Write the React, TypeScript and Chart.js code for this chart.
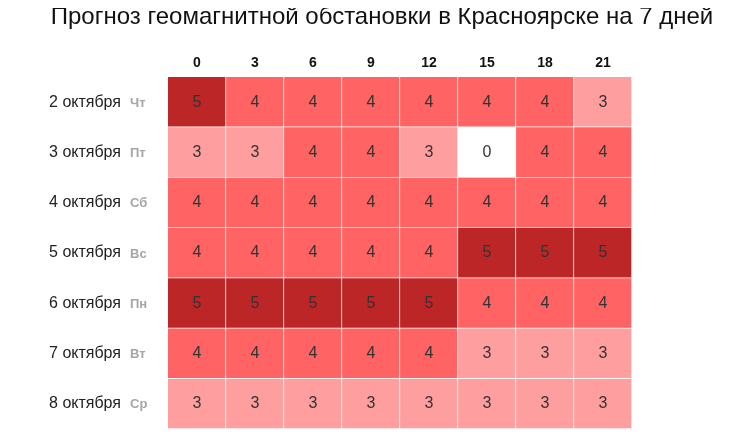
import React, { useEffect, useRef } from "react";
import { Chart, registerables } from "chart.js";

Chart.register(...registerables);

const TITLE = "Прогноз геомагнитной обстановки в Красноярске на 7 дней";
const hours = ["0", "3", "6", "9", "12", "15", "18", "21"];
const dates = ["2 октября", "3 октября", "4 октября", "5 октября", "6 октября", "7 октября", "8 октября"];
const weekdays = ["Чт", "Пт", "Сб", "Вс", "Пн", "Вт", "Ср"];

const oct2 = [5, 4, 4, 4, 4, 4, 4, 3];
const oct3 = [3, 3, 4, 4, 3, 0, 4, 4];
const oct4 = [4, 4, 4, 4, 4, 4, 4, 4];
const oct5 = [4, 4, 4, 4, 4, 5, 5, 5];
const oct6 = [5, 5, 5, 5, 5, 4, 4, 4];
const oct7 = [4, 4, 4, 4, 4, 3, 3, 3];
const oct8 = [3, 3, 3, 3, 3, 3, 3, 3];
const rows = [oct2, oct3, oct4, oct5, oct6, oct7, oct8];

const FONT = "'Liberation Sans', Arial, sans-serif";

function colorFor(v: number) {
  if (v >= 5) return "#bc2626";
  if (v === 4) return "#ff6363";
  if (v === 3) return "#ff9e9e";
  return "#ffffff";
}

export default function App() {
  const ref = useRef<HTMLCanvasElement | null>(null);
  useEffect(() => {
    if (!ref.current) return;
    const datasets = hours.map((h, c) => ({
      label: h,
      data: rows.map(() => 1),
      values: rows.map((r) => r[c]),
      backgroundColor: rows.map((r) => colorFor(r[c])),
      borderColor: "#ffffff",
      borderWidth: { top: 0, left: 0, right: 1, bottom: 1 },
      borderSkipped: false,
      barPercentage: 1,
      categoryPercentage: 1,
    }));

    const cellText = {
      id: "cellText",
      afterDatasetsDraw(chart: any) {
        const ctx = chart.ctx;
        ctx.save();
        ctx.font = `16px ${FONT}`;
        ctx.fillStyle = "#333333";
        ctx.textAlign = "center";
        ctx.textBaseline = "middle";
        chart.data.datasets.forEach((ds: any, di: number) => {
          const meta = chart.getDatasetMeta(di);
          meta.data.forEach((el: any, i: number) => {
            const cx = (el.x + el.base) / 2;
            ctx.fillText(String(ds.values[i]), cx, el.y);
          });
        });
        ctx.restore();
      },
    };

    const extras = {
      id: "extras",
      afterDraw(chart: any) {
        const ctx = chart.ctx;
        const y = chart.scales.y;
        ctx.save();
        ctx.font = `24px ${FONT}`;
        ctx.fillStyle = "#111111";
        ctx.textAlign = "center";
        ctx.textBaseline = "middle";
        ctx.fillText(TITLE, 374, 9);
        ctx.font = `bold 13px ${FONT}`;
        ctx.fillStyle = "#a6a6a6";
        ctx.textAlign = "left";
        weekdays.forEach((w, i) => {
          ctx.fillText(w, chart.chartArea.left - 38, y.getPixelForValue(i) + 1);
        });
        ctx.restore();
      },
    };

    const chart = new Chart(ref.current, {
      type: "bar",
      data: { labels: dates, datasets: datasets as any },
      options: {
        indexAxis: "y",
        animation: false,
        responsive: true,
        maintainAspectRatio: false,
        layout: { padding: { top: 0, left: 0, right: 94, bottom: 6 } },
        plugins: {
          legend: { display: false },
          tooltip: { enabled: false },
          title: { display: false },
        },
        scales: {
          x: {
            type: "linear",
            position: "top",
            stacked: true,
            min: 0,
            max: 8,
            grid: { display: false, drawTicks: false },
            border: { display: false },
            afterBuildTicks(scale: any) {
              scale.ticks = hours.map((_, i) => ({ value: i + 0.5 }));
            },
            afterFit(scale: any) {
              scale.height = 69;
              scale.paddingLeft = 0;
              scale.paddingRight = 0;
            },
            ticks: {
              autoSkip: false,
              maxRotation: 0,
              padding: 5,
              color: "#111111",
              font: { family: FONT, size: 14, weight: "bold" },
              callback: (v: any) => hours[Math.floor(Number(v))],
            },
          },
          y: {
            type: "category",
            stacked: true,
            grid: { display: false, drawTicks: false },
            border: { display: false },
            afterFit(scale: any) {
              scale.width = 160;
              scale.paddingTop = 0;
              scale.paddingBottom = 0;
            },
            ticks: {
              padding: 47,
              color: "#222222",
              font: { family: FONT, size: 16 },
            },
          },
        },
      } as any,
      plugins: [cellText, extras],
    });
    return () => chart.destroy();
  }, []);
  return (
    <div style={{ position: "relative", width: 718, height: 427 }}>
      <canvas ref={ref} />
    </div>
  );
}
